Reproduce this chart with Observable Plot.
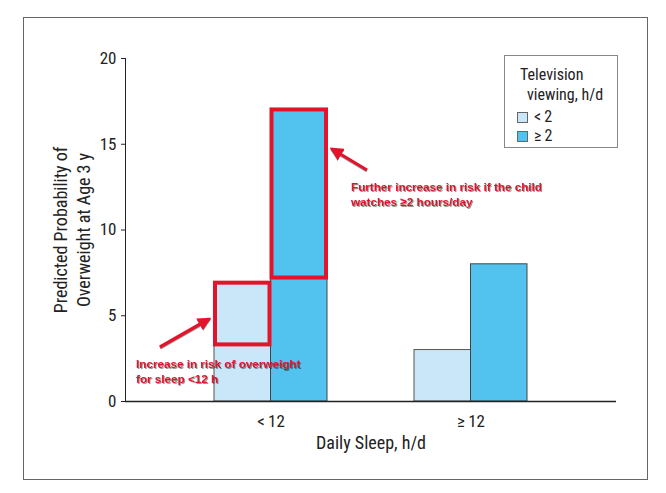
<!DOCTYPE html>
<html>
<head>
<meta charset="utf-8">
<script src="https://cdn.jsdelivr.net/npm/d3@7"></script>
<script src="https://cdn.jsdelivr.net/npm/@observablehq/plot@0.6"></script>
<style>
  html, body { margin: 0; padding: 0; background: #fff; }
  #wrap { position: relative; width: 666px; height: 493px; overflow: hidden; background: #fff; }
  #border { position: absolute; left: 23px; top: 17px; width: 623px; height: 461px; border: 1.5px solid #666; pointer-events: none; }
  #legend { position: absolute; left: 504px; top: 55px; width: 112px; height: 91px; border: 1.3px solid #888; background: #fff;
            font-family: "Roboto Condensed", "Liberation Sans Narrow", "DejaVu Sans Condensed", sans-serif; font-size: 16px; color: #222; }
  #legend .t { position: absolute; white-space: nowrap; line-height: 1; }
  #legend .sw { position: absolute; width: 11px; height: 11px; border: 1px solid #666; box-sizing: border-box; }
  #overlay { position: absolute; left: 0; top: 0; pointer-events: none; }
  .ann { font-family: "Liberation Sans", Arial, sans-serif; font-weight: bold; font-size: 11.7px; fill: #e3132c;
         filter: drop-shadow(1px 1px 0.7px rgba(0,0,0,0.4)); }
</style>
</head>
<body>
<div id="wrap">
  <div id="chart"></div>
  <div id="border"></div>
  <div id="legend"></div>
  <svg id="overlay" width="666" height="493"></svg>
</div>
<script>
// ---- data ----
const sleepCats = ["<12", "≥12"];
const sleepLabels = ["<\u200912", "≥\u200912"];
const tvCats = ["<2", "≥2"];
const tvLabels = ["<\u20092", "≥\u20092"];
const tvLowValues = [6.9, 3.0];    // TV < 2 h/d
const tvHighValues = [17.0, 8.0];  // TV ≥ 2 h/d
const yTicks = [0, 5, 10, 15, 20];
const yDomain = [0, 20];
const xLabel = "Daily Sleep, h/d";
const yLabel = "Predicted Probability of\nOverweight at Age 3 y";
const legendTitle = ["Television", "viewing, h/d"];
// highlighted ranges (red boxes)
const boxSleep = ["<12", "<12"];
const boxTv = ["<2", "≥2"];
const boxFrom = [3.3, 7.2];
const boxTo = [6.9, 17.0];
const annTexts = [
  ["Further increase in risk if the child", "watches ≥2 hours/day"],
  ["Increase in risk of overweight", "for sleep <12 h"]
];

const LIGHT = "#c9e7f8";
const DARK = "#52c3ee";
const RED = "#e3132c";
const FONT = "'Roboto Condensed', 'Liberation Sans Narrow', 'DejaVu Sans Condensed', sans-serif";

const lowData = sleepCats.map((s, i) => ({sleep: s, tv: tvCats[0], value: tvLowValues[i]}));
const highData = sleepCats.map((s, i) => ({sleep: s, tv: tvCats[1], value: tvHighValues[i]}));
const boxes = boxSleep.map((s, i) => ({sleep: s, tv: boxTv[i], y1: boxFrom[i], y2: boxTo[i]}));

function build(bw) {
  const half = bw / 2;
  return Plot.plot({
    width: 666, height: 493,
    marginLeft: 125, marginRight: 50, marginTop: 58, marginBottom: 92,
    style: {fontFamily: FONT, fontSize: "17px", color: "#222", background: "transparent", overflow: "visible"},
    x: {domain: sleepCats, paddingInner: 0.433, paddingOuter: 0.438, label: null, tickSize: 0, tickPadding: 13,
        tickFormat: d => sleepLabels[sleepCats.indexOf(d)]},
    y: {domain: yDomain, ticks: yTicks, tickSize: 4, tickPadding: 5, label: null, line: true},
    marks: [
      Plot.barY(lowData, {x: "sleep", y: "value", insetRight: half, fill: LIGHT, stroke: "#555", strokeWidth: 1}),
      Plot.barY(highData, {x: "sleep", y: "value", insetLeft: half, fill: DARK, stroke: "#444", strokeWidth: 1}),
      Plot.ruleY([0], {stroke: "#222", strokeWidth: 1.5}),
      Plot.rectY(boxes.filter(d => d.tv === tvCats[0]), {x: "sleep", y1: "y1", y2: "y2", insetRight: half + 1, insetLeft: 1,
        fill: "none", stroke: RED, strokeWidth: 4}),
      Plot.rectY(boxes.filter(d => d.tv === tvCats[1]), {x: "sleep", y1: "y1", y2: "y2", insetLeft: half + 1, insetRight: 1,
        fill: "none", stroke: RED, strokeWidth: 4}),
      Plot.text([yLabel], {text: d => d, frameAnchor: "left", textAnchor: "middle", rotate: -90, dx: -54, lineAnchor: "middle",
        lineHeight: 1.25, fontSize: 18, fill: "#222"}),
      Plot.text([xLabel], {text: d => d, frameAnchor: "bottom", dy: 47, fontSize: 18, fill: "#222"})
    ]
  });
}

const probe = build(0);
const bw = probe.scale("x").bandwidth;
const chart = build(bw);
document.getElementById("chart").appendChild(chart);

// legend
const lg = document.getElementById("legend");
lg.innerHTML =
  `<div class="t" style="left:15px;top:11px">${legendTitle[0]}</div>` +
  `<div class="t" style="left:22px;top:31px">${legendTitle[1]}</div>` +
  `<div class="sw" style="left:12px;top:56px;background:${LIGHT}"></div>` +
  `<div class="t" style="left:29px;top:53px">${tvLabels[0]}</div>` +
  `<div class="sw" style="left:12px;top:75px;background:${DARK}"></div>` +
  `<div class="t" style="left:29px;top:72px">${tvLabels[1]}</div>`;

// annotation arrows and text
const ov = d3.select("#overlay");
const defs = ov.append("defs");
defs.append("marker").attr("id", "ah").attr("viewBox", "0 0 10 10").attr("refX", 8).attr("refY", 5)
  .attr("markerWidth", 4.2).attr("markerHeight", 4.2).attr("orient", "auto-start-reverse")
  .append("path").attr("d", "M0,0 L10,5 L0,10 z").attr("fill", RED);
const arrows = [[367, 170, 332, 149], [160, 347, 209, 319]];
arrows.forEach(([x1, y1, x2, y2]) => {
  ov.append("line").attr("x1", x1).attr("y1", y1).attr("x2", x2).attr("y2", y2)
    .attr("stroke", RED).attr("stroke-width", 3.2).attr("marker-end", "url(#ah)")
    .style("filter", "drop-shadow(0.8px 1px 0.6px rgba(0,0,0,0.4))");
});
const annPos = [[351, 191], [136, 368]];
annTexts.forEach((lines, i) => {
  const t = ov.append("text").attr("class", "ann").attr("x", annPos[i][0]).attr("y", annPos[i][1]);
  lines.forEach((ln, j) => t.append("tspan").attr("x", annPos[i][0]).attr("dy", j ? 14.5 : 0).text(ln));
});
</script>
</body>
</html>
